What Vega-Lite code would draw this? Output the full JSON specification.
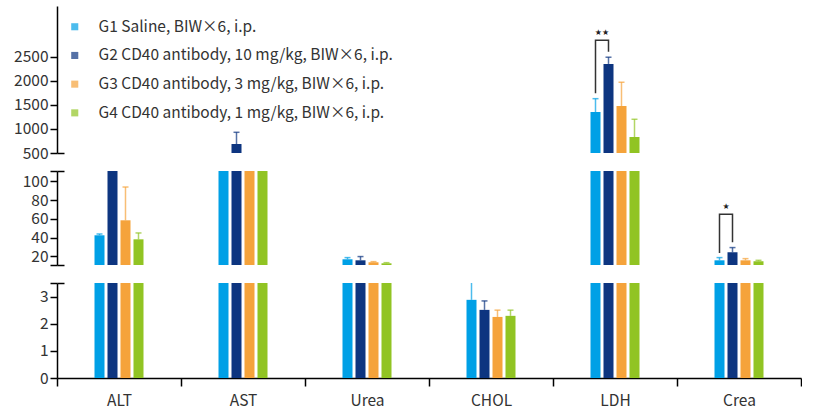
{
  "$schema": "https://vega.github.io/schema/vega-lite/v6.json",
  "padding": {"left": 13, "top": 6, "right": 0, "bottom": 0},
  "spacing": 18,
  "bounds": "flush",
  "config": {
    "font": "Noto Sans CJK SC",
    "view": {"stroke": null},
    "axis": {"labelFontSize": 15.5, "labelColor": "#333333", "labelFont": "Noto Sans CJK SC", "labelOverlap": false, "domainColor": "#000000", "domainWidth": 1.5, "tickColor": "#000000", "tickWidth": 1.5, "grid": false, "title": null}
  },
  "datasets": {
    "bars": [
      {"metric": "ALT", "group": "G1", "value": 42.4, "upper": 43.8},
      {"metric": "ALT", "group": "G2", "value": 200, "upper": null},
      {"metric": "ALT", "group": "G3", "value": 58.4, "upper": 93.9},
      {"metric": "ALT", "group": "G4", "value": 38.1, "upper": 44.9},
      {"metric": "AST", "group": "G1", "value": 250, "upper": null},
      {"metric": "AST", "group": "G2", "value": 687, "upper": 931},
      {"metric": "AST", "group": "G3", "value": 250, "upper": null},
      {"metric": "AST", "group": "G4", "value": 250, "upper": null},
      {"metric": "Urea", "group": "G1", "value": 16.8, "upper": 18.6},
      {"metric": "Urea", "group": "G2", "value": 15.7, "upper": 19.7},
      {"metric": "Urea", "group": "G3", "value": 13.6, "upper": 14.3},
      {"metric": "Urea", "group": "G4", "value": 12.5, "upper": 13.2},
      {"metric": "CHOL", "group": "G1", "value": 2.88, "upper": 3.7},
      {"metric": "CHOL", "group": "G2", "value": 2.51, "upper": 2.84},
      {"metric": "CHOL", "group": "G3", "value": 2.25, "upper": 2.5},
      {"metric": "CHOL", "group": "G4", "value": 2.29, "upper": 2.5},
      {"metric": "LDH", "group": "G1", "value": 1354, "upper": 1631},
      {"metric": "LDH", "group": "G2", "value": 2354, "upper": 2494},
      {"metric": "LDH", "group": "G3", "value": 1479, "upper": 1973},
      {"metric": "LDH", "group": "G4", "value": 833, "upper": 1202},
      {"metric": "Crea", "group": "G1", "value": 15.7, "upper": 18.6},
      {"metric": "Crea", "group": "G2", "value": 24.3, "upper": 29.3},
      {"metric": "Crea", "group": "G3", "value": 15.7, "upper": 17.5},
      {"metric": "Crea", "group": "G4", "value": 14.7, "upper": 15.7}
    ],
    "breaks": [
      {"panel": "top", "metric": "ALT", "group": "G1", "value": 500},
      {"panel": "mid", "metric": "ALT", "group": "G1", "value": 10.7},
      {"panel": "mid", "metric": "ALT", "group": "G1", "value": 111},
      {"panel": "bot", "metric": "ALT", "group": "G1", "value": 3.5}
    ],
    "brackets": [
      {"panel": "top", "metric": "LDH", "group": "G1", "value": 1744, "ord": 1},
      {"panel": "top", "metric": "LDH", "group": "G1", "value": 2848, "ord": 2},
      {"panel": "top", "metric": "LDH", "group": "G2", "value": 2848, "ord": 3},
      {"panel": "top", "metric": "LDH", "group": "G2", "value": 2610, "ord": 4},
      {"panel": "mid", "metric": "Crea", "group": "G1", "value": 23.5, "ord": 1},
      {"panel": "mid", "metric": "Crea", "group": "G1", "value": 64.8, "ord": 2},
      {"panel": "mid", "metric": "Crea", "group": "G2", "value": 64.8, "ord": 3},
      {"panel": "mid", "metric": "Crea", "group": "G2", "value": 34.9, "ord": 4}
    ],
    "stars": [
      {"panel": "top", "metric": "LDH", "group": "G1", "value": 3000, "label": "★★"},
      {"panel": "mid", "metric": "Crea", "group": "G1", "value": 72.6, "label": "★"}
    ]
  },
  "vconcat": [
    {
      "width": 744,
      "height": 147,
      "resolve": {"axis": {"y": "independent"}},
      "encoding": {
        "x": {"field": "metric", "type": "nominal", "sort": ["ALT", "AST", "Urea", "CHOL", "LDH", "Crea"], "scale": {"domain": ["ALT", "AST", "Urea", "CHOL", "LDH", "Crea"], "paddingInner": 0, "paddingOuter": 0}, "axis": null},
        "xOffset": {"field": "group", "type": "nominal", "scale": {"domain": ["p1", "p2", "G1", "G2", "G3", "G4", "p3", "p4"], "paddingInner": 0.23, "paddingOuter": 0.885}}
      },
      "layer": [
        {
          "data": {"name": "bars"},
          "mark": {"type": "bar", "clip": true},
          "encoding": {
            "y": {"field": "value", "type": "quantitative", "scale": {"domain": [500, 3560], "zero": false, "nice": false}, "axis": {"orient": "left", "values": [500, 1000, 1500, 2000, 2500], "format": "d", "tickSize": 7, "labelPadding": 2, "labelOverlap": false}},
            "y2": {"datum": 0},
            "color": {"field": "group", "type": "nominal", "scale": {"domain": ["G1", "G2", "G3", "G4"], "range": ["#00A0E6", "#0D3580", "#F5A33B", "#91C423"]},
              "legend": {"orient": "none", "legendX": 10, "legendY": 13, "title": null, "symbolType": "square", "symbolSize": 50, "symbolStrokeWidth": 0, "labelFontSize": 15.5, "labelColor": "#333333", "rowPadding": 11.7, "labelOffset": 16, "labelLimit": 450, "labelExpr": "datum.value == 'G1' ? 'G1 Saline, BIW×6, i.p.' : datum.value == 'G2' ? 'G2 CD40 antibody, 10 mg/kg, BIW×6, i.p.' : datum.value == 'G3' ? 'G3 CD40 antibody, 3 mg/kg, BIW×6, i.p.' : 'G4 CD40 antibody, 1 mg/kg, BIW×6, i.p.'"}}
          }
        },
        {
          "data": {"name": "bars"},
          "transform": [{"filter": "datum.upper != null"}],
          "mark": {"type": "rule", "clip": true, "strokeWidth": 1.5, "opacity": 0.7},
          "encoding": {
            "y": {"field": "value", "type": "quantitative", "axis": null},
            "y2": {"field": "upper"},
            "color": {"field": "group", "type": "nominal"}
          }
        },
        {
          "data": {"name": "bars"},
          "transform": [{"filter": "datum.upper != null"}],
          "mark": {"type": "tick", "clip": true, "thickness": 1.5, "size": 6, "opacity": 0.7},
          "encoding": {
            "y": {"field": "upper", "type": "quantitative", "axis": null},
            "color": {"field": "group", "type": "nominal"}
          }
        },
        {
          "data": {"name": "brackets"},
          "transform": [{"filter": "datum.panel == 'top'"}],
          "mark": {"type": "line", "color": "#333333", "strokeWidth": 1.5, "clip": true},
          "encoding": {
            "y": {"field": "value", "type": "quantitative", "axis": null},
            "order": {"field": "ord"},
            "detail": {"field": "metric"}
          }
        },
        {
          "data": {"name": "stars"},
          "transform": [{"filter": "datum.panel == 'top'"}],
          "mark": {"type": "text", "fontSize": 8, "color": "#222222", "dx": 6.5, "font": "DejaVu Sans"},
          "encoding": {
            "y": {"field": "value", "type": "quantitative", "axis": null},
            "text": {"field": "label"}
          }
        },
        {
          "data": {"name": "breaks"},
          "transform": [{"filter": "datum.panel == 'top'"}],
          "mark": {"type": "tick", "opacity": 0},
          "encoding": {
            "y": {"field": "value", "type": "quantitative", "axis": {"orient": "left", "values": [500], "tickSize": -7, "labels": false, "domain": false}}
          }
        }
      ]
    },
    {
      "width": 744,
      "height": 94,
      "resolve": {"axis": {"y": "independent"}},
      "encoding": {
        "x": {"field": "metric", "type": "nominal", "sort": ["ALT", "AST", "Urea", "CHOL", "LDH", "Crea"], "scale": {"domain": ["ALT", "AST", "Urea", "CHOL", "LDH", "Crea"], "paddingInner": 0, "paddingOuter": 0}, "axis": null},
        "xOffset": {"field": "group", "type": "nominal", "scale": {"domain": ["p1", "p2", "G1", "G2", "G3", "G4", "p3", "p4"], "paddingInner": 0.23, "paddingOuter": 0.885}}
      },
      "layer": [
        {
          "data": {"name": "bars"},
          "mark": {"type": "bar", "clip": true},
          "encoding": {
            "y": {"field": "value", "type": "quantitative", "scale": {"domain": [10.7, 111], "zero": false, "nice": false}, "axis": {"orient": "left", "values": [10.7, 20, 40, 60, 80, 100, 111], "format": "d", "labelExpr": "datum.value == 10.7 || datum.value == 111 ? '' : datum.label", "tickSize": 7, "labelPadding": 2, "labelOverlap": false}},
            "y2": {"datum": 0},
            "color": {"field": "group", "type": "nominal", "scale": {"domain": ["G1", "G2", "G3", "G4"], "range": ["#00A0E6", "#0D3580", "#F5A33B", "#91C423"]}}
          }
        },
        {
          "data": {"name": "bars"},
          "transform": [{"filter": "datum.upper != null"}],
          "mark": {"type": "rule", "clip": true, "strokeWidth": 1.5, "opacity": 0.7},
          "encoding": {
            "y": {"field": "value", "type": "quantitative", "axis": null},
            "y2": {"field": "upper"},
            "color": {"field": "group", "type": "nominal"}
          }
        },
        {
          "data": {"name": "bars"},
          "transform": [{"filter": "datum.upper != null"}],
          "mark": {"type": "tick", "clip": true, "thickness": 1.5, "size": 6, "opacity": 0.7},
          "encoding": {
            "y": {"field": "upper", "type": "quantitative", "axis": null},
            "color": {"field": "group", "type": "nominal"}
          }
        },
        {
          "data": {"name": "brackets"},
          "transform": [{"filter": "datum.panel == 'mid'"}],
          "mark": {"type": "line", "color": "#333333", "strokeWidth": 1.5, "clip": true},
          "encoding": {
            "y": {"field": "value", "type": "quantitative", "axis": null},
            "order": {"field": "ord"},
            "detail": {"field": "metric"}
          }
        },
        {
          "data": {"name": "stars"},
          "transform": [{"filter": "datum.panel == 'mid'"}],
          "mark": {"type": "text", "fontSize": 8, "color": "#222222", "dx": 6.5, "font": "DejaVu Sans"},
          "encoding": {
            "y": {"field": "value", "type": "quantitative", "axis": null},
            "text": {"field": "label"}
          }
        },
        {
          "data": {"name": "breaks"},
          "transform": [{"filter": "datum.panel == 'mid'"}],
          "mark": {"type": "tick", "opacity": 0},
          "encoding": {
            "y": {"field": "value", "type": "quantitative", "axis": {"orient": "left", "values": [10.7, 111], "tickSize": -7, "labels": false, "domain": false}}
          }
        }
      ]
    },
    {
      "width": 744,
      "height": 95,
      "resolve": {"axis": {"y": "independent"}},
      "encoding": {
        "x": {"field": "metric", "type": "nominal", "sort": ["ALT", "AST", "Urea", "CHOL", "LDH", "Crea"], "scale": {"domain": ["ALT", "AST", "Urea", "CHOL", "LDH", "Crea"], "paddingInner": 0, "paddingOuter": 0}, "axis": {"tickBand": "extent", "labelAngle": 0, "tickSize": 8, "labelPadding": 7, "labelFontSize": 15.5}},
        "xOffset": {"field": "group", "type": "nominal", "scale": {"domain": ["p1", "p2", "G1", "G2", "G3", "G4", "p3", "p4"], "paddingInner": 0.23, "paddingOuter": 0.885}}
      },
      "layer": [
        {
          "data": {"name": "bars"},
          "mark": {"type": "bar", "clip": true},
          "encoding": {
            "y": {"field": "value", "type": "quantitative", "scale": {"domain": [0, 3.5], "zero": false, "nice": false}, "axis": {"orient": "left", "values": [0, 1, 2, 3, 3.5], "labelExpr": "datum.value == 3.5 ? '' : format(datum.value, '.0f')", "tickSize": 7, "labelPadding": 2, "labelOverlap": false}},
            "y2": {"datum": 0},
            "color": {"field": "group", "type": "nominal", "scale": {"domain": ["G1", "G2", "G3", "G4"], "range": ["#00A0E6", "#0D3580", "#F5A33B", "#91C423"]}}
          }
        },
        {
          "data": {"name": "bars"},
          "transform": [{"filter": "datum.upper != null"}],
          "mark": {"type": "rule", "clip": true, "strokeWidth": 1.5, "opacity": 0.7},
          "encoding": {
            "y": {"field": "value", "type": "quantitative", "axis": null},
            "y2": {"field": "upper"},
            "color": {"field": "group", "type": "nominal"}
          }
        },
        {
          "data": {"name": "bars"},
          "transform": [{"filter": "datum.upper != null"}],
          "mark": {"type": "tick", "clip": true, "thickness": 1.5, "size": 6, "opacity": 0.7},
          "encoding": {
            "y": {"field": "upper", "type": "quantitative", "axis": null},
            "color": {"field": "group", "type": "nominal"}
          }
        },
        {
          "data": {"name": "breaks"},
          "transform": [{"filter": "datum.panel == 'bot'"}],
          "mark": {"type": "tick", "opacity": 0},
          "encoding": {
            "y": {"field": "value", "type": "quantitative", "axis": {"orient": "left", "values": [3.5], "tickSize": -7, "labels": false, "domain": false}}
          }
        }
      ]
    }
  ]
}
